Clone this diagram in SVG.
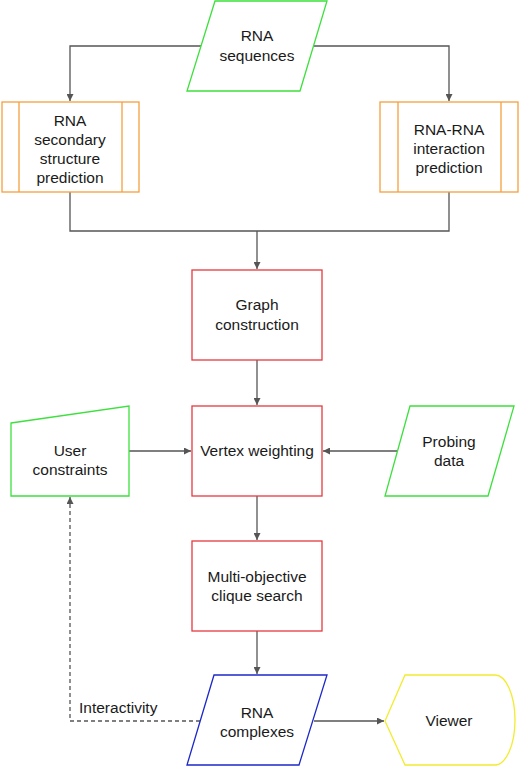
<svg xmlns="http://www.w3.org/2000/svg" width="520" height="768" viewBox="0 0 520 768">
<style>
text{font-family:"Liberation Sans",Arial,sans-serif;font-size:15.5px;fill:#1a1a1a;text-anchor:middle}
.g{fill:#fff;stroke:#3de03d;stroke-width:1.3}
.o{fill:#fff;stroke:#f5a040;stroke-width:1.3}
.r{fill:#fff;stroke:#e5393f;stroke-width:1.3}
.b{fill:#fff;stroke:#1c28c8;stroke-width:1.3}
.y{fill:#fff;stroke:#f2ec30;stroke-width:1.3}
.c{fill:none;stroke:#555;stroke-width:1.3}
.d{stroke-dasharray:4 3}
</style>
<defs>
<marker id="a" viewBox="0 0 10 10" refX="10" refY="5" markerWidth="7" markerHeight="7" markerUnits="userSpaceOnUse" orient="auto">
<path d="M0,0L10,5L0,10z" fill="#555"/>
</marker>
</defs>
<g id="connectors">
<path class="c" d="M201,46H70V101" marker-end="url(#a)"/>
<path class="c" d="M313,46H449V101" marker-end="url(#a)"/>
<path class="c" d="M70,192V231H449V192"/>
<path class="c" d="M257,231V269" marker-end="url(#a)"/>
<path class="c" d="M257,360V405" marker-end="url(#a)"/>
<path class="c" d="M129,451H191" marker-end="url(#a)"/>
<path class="c" d="M397,451H323" marker-end="url(#a)"/>
<path class="c" d="M257,496V540" marker-end="url(#a)"/>
<path class="c" d="M257,631V674" marker-end="url(#a)"/>
<path class="c" d="M314,721H384" marker-end="url(#a)"/>
<path class="c d" d="M200,721H70V497" marker-end="url(#a)"/>
<text x="79" y="713" style="text-anchor:start">Interactivity</text>
</g>
<g id="rna-sequences">
<path class="g" d="M215,1H327L300,91H187Z"/>
<text x="257" y="41">RNA</text>
<text x="257" y="61">sequences</text>
</g>
<g id="secondary-structure">
<rect class="o" x="2" y="102" width="137" height="90"/>
<path class="o" d="M19,102V192M122,102V192"/>
<text x="70" y="126">RNA</text>
<text x="70" y="145">secondary</text>
<text x="70" y="164">structure</text>
<text x="70" y="183">prediction</text>
</g>
<g id="interaction-prediction">
<rect class="o" x="380" y="102" width="138" height="90"/>
<path class="o" d="M398,102V192M501,102V192"/>
<text x="449" y="135">RNA-RNA</text>
<text x="449" y="154">interaction</text>
<text x="449" y="173">prediction</text>
</g>
<g id="graph-construction">
<rect class="r" x="192" y="270" width="130" height="90"/>
<text x="257" y="310">Graph</text>
<text x="257" y="330">construction</text>
</g>
<g id="vertex-weighting">
<rect class="r" x="192" y="406" width="130" height="90"/>
<text x="257" y="456">Vertex weighting</text>
</g>
<g id="user-constraints">
<path class="g" d="M11,423L129,406V496H11Z"/>
<text x="70" y="456">User</text>
<text x="70" y="475">constraints</text>
</g>
<g id="probing-data">
<path class="g" d="M410,406H514L488,496H385Z"/>
<text x="449" y="447">Probing</text>
<text x="449" y="466">data</text>
</g>
<g id="clique-search">
<rect class="r" x="192" y="541" width="130" height="90"/>
<text x="257" y="582">Multi-objective</text>
<text x="257" y="601">clique search</text>
</g>
<g id="rna-complexes">
<path class="b" d="M214,675H327L299,765H187Z"/>
<text x="257" y="718">RNA</text>
<text x="257" y="737">complexes</text>
</g>
<g id="viewer">
<path class="y" d="M385,721L405,675H495A20,45 0 0 1 495,765H405Z"/>
<text x="449" y="726">Viewer</text>
</g>
</svg>
